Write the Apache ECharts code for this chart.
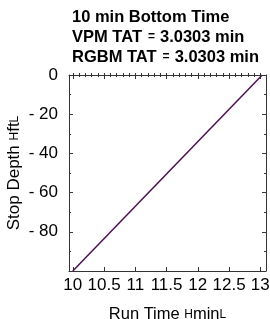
<!DOCTYPE html>
<html><head><meta charset="utf-8">
<script src="https://cdn.jsdelivr.net/npm/echarts@6/dist/echarts.min.js"></script>
<style>html,body{margin:0;padding:0;background:#fff}#c{width:270px;height:319px}</style>
</head><body><div id="c"></div>
<script>
// data
const runTime = [10, 13.0303];
const stopDepth = [-100, 0];
const xTickLabels = [10, 10.5, 11, 11.5, 12, 12.5, 13];
const xMinorTicks = [10, 10.1, 10.2, 10.3, 10.4, 10.5, 10.6, 10.7, 10.8, 10.9, 11, 11.1, 11.2, 11.3, 11.4, 11.5, 11.6, 11.7, 11.8, 11.9, 12, 12.1, 12.2, 12.3, 12.4, 12.5, 12.6, 12.7, 12.8, 12.9, 13];
const yTicks = [0, -20, -40, -60, -80];
const titleLines = ['10 min Bottom Time', 'VPM TAT', '3.0303 min', 'RGBM TAT', '3.0303 min'];

const XMIN = 9.9394, XMAX = 13.0909;
const frameColor = '#333';
const font = 'Liberation Sans, Arial, sans-serif';

const chart = echarts.init(document.getElementById('c'));
const baseX = {
  type: 'value', min: XMIN, max: XMAX, splitLine: {show: false}
};
chart.setOption({
  animation: false,
  title: {
    left: 67, top: 2,
    text: '{b|' + titleLines[0] + '}\n{b|' + titleLines[1] + '}{e|=}{b|' + titleLines[2] + '}\n{b|' + titleLines[3] + '}{e|=}{b|' + titleLines[4] + '}',
    textStyle: {
      rich: {
        b: {fontFamily: font, fontWeight: 'bold', fontSize: 16.5, color: '#000', lineHeight: 20},
        e: {fontFamily: font, fontSize: 12, color: '#000', lineHeight: 20, padding: [0, 5, 0, 6]}
      }
    }
  },
  grid: {left: 69, right: 4, top: 75, bottom: 48, outerBoundsMode: 'none', containLabel: false},
  xAxis: [
    Object.assign({}, baseX, {
      position: 'bottom',
      name: '{n|Run Time }{p|H}{n|min}{p|L}', nameLocation: 'middle', nameGap: 35,
      nameTextStyle: {rich: {n: {fontFamily: font, fontSize: 16.5, color: '#000'}, p: {fontFamily: font, fontSize: 12, color: '#000'}}},
      axisLine: {show: true, onZero: false, lineStyle: {color: frameColor, width: 1}},
      axisTick: {show: true, inside: true, length: 4, customValues: xTickLabels, lineStyle: {color: frameColor}},
      axisLabel: {customValues: xTickLabels, margin: 6, fontFamily: font, fontSize: 17, color: '#000', formatter: v => String(v)}
    }),
    Object.assign({}, baseX, {
      position: 'bottom',
      axisLine: {show: false},
      axisTick: {show: true, inside: true, length: 2, customValues: xMinorTicks, lineStyle: {color: frameColor}},
      axisLabel: {show: false}
    }),
    Object.assign({}, baseX, {
      position: 'top',
      axisLine: {show: true, onZero: false, lineStyle: {color: frameColor, width: 1}},
      axisTick: {show: true, inside: true, length: 4, customValues: xTickLabels, lineStyle: {color: frameColor}},
      axisLabel: {show: false}
    }),
    Object.assign({}, baseX, {
      position: 'top',
      axisLine: {show: false},
      axisTick: {show: true, inside: true, length: 2, customValues: xMinorTicks, lineStyle: {color: frameColor}},
      axisLabel: {show: false}
    })
  ],
  yAxis: [
    {
      type: 'value', min: -100, max: 0, interval: 20, position: 'left',
      name: '{n|Stop Depth }{p|H}{n|ft}{p|L}', nameLocation: 'middle', nameGap: 46, nameRotate: 90,
      nameMoveOverlap: false,
      nameTextStyle: {rich: {n: {fontFamily: font, fontSize: 17, color: '#000'}, p: {fontFamily: font, fontSize: 12, color: '#000'}}},
      splitLine: {show: false},
      axisLine: {show: true, onZero: false, lineStyle: {color: frameColor, width: 1}},
      axisTick: {show: true, inside: true, length: 4, lineStyle: {color: frameColor}},
      minorTick: {show: true, splitNumber: 2, length: 2, lineStyle: {color: frameColor}},
      axisLabel: {
        customValues: yTicks, margin: 11, fontFamily: font, fontSize: 17, color: '#000',
        formatter: v => v < 0 ? '- ' + Math.abs(v) : String(v)
      }
    },
    {
      type: 'value', min: -100, max: 0, interval: 20, position: 'right',
      splitLine: {show: false},
      axisLine: {show: true, onZero: false, lineStyle: {color: frameColor, width: 1}},
      axisTick: {show: true, inside: true, length: 4, lineStyle: {color: frameColor}},
      minorTick: {show: true, splitNumber: 2, length: 2, lineStyle: {color: frameColor}},
      axisLabel: {show: false}
    }
  ],
  series: [{
    type: 'line', xAxisIndex: 0, yAxisIndex: 0,
    data: runTime.map((t, i) => [t, stopDepth[i]]),
    showSymbol: false, symbol: 'none',
    lineStyle: {color: '#4d0f52', width: 1.5}
  }]
});
</script></body></html>
